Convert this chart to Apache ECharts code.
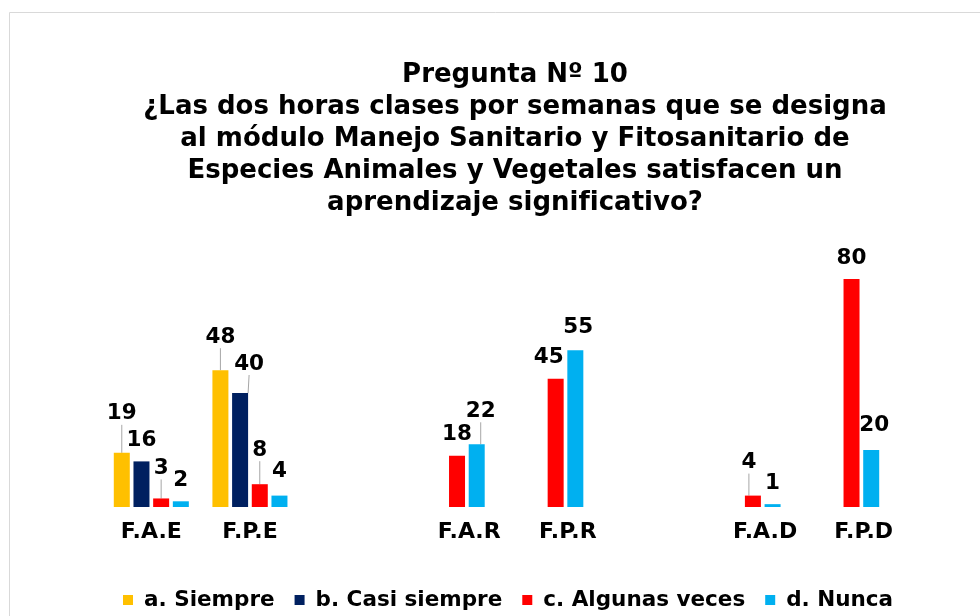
<!DOCTYPE html>
<html lang="es">
<head>
  <meta charset="utf-8">
</head>
<body style="margin: 0; background: #fff">
  <div id="container" style="width: 980px; height: 616px"></div>

  <script type="text/javascript" src="https://fastly.jsdelivr.net/npm/echarts@6.0.0/dist/echarts.min.js"></script>
  <script type="text/javascript">
    // datos del gráfico
    var categories = ['F.A.E', 'F.P.E', '', 'F.A.R', 'F.P.R', '', 'F.A.D', 'F.P.D'];
    var siempre = [19, 48, null, null, null, null, null, null];
    var casiSiempre = [16, 40, null, null, null, null, null, null];
    var algunasVeces = [3, 8, null, 18, 45, null, 4, 80];
    var nunca = [2, 4, null, 22, 55, null, 1, 20];
    var seriesNames = ['a. Siempre', 'b. Casi siempre', 'c. Algunas veces', 'd. Nunca'];
    var titleText = 'Pregunta Nº 10\n' +
      '¿Las dos horas clases por semanas que se designa\n' +
      'al módulo Manejo Sanitario y Fitosanitario de\n' +
      'Especies Animales y Vegetales satisfacen un\n' +
      'aprendizaje significativo?';

    var colors = ['#FFC000', '#002060', '#FF0000', '#00B0F0'];
    var FONT = '"DejaVu Sans", sans-serif';

    // etiquetas desplazadas: "serie-categoria": [dx, dy, linea guia]
    var callouts = {
      '0-0': [0, -18, true],
      '2-0': [0, -9, true],
      '0-1': [0, -12, true],
      '1-1': [9, -8, true],
      '2-1': [0, -13, true],
      '3-1': [0, -3, false],
      '3-3': [4, -12, true],
      '2-4': [-7, 0, false],
      '3-4': [3, -2, false],
      '2-6': [-4, -12, true],
      '3-7': [3, -4, false]
    };

    var values = [siempre, casiSiempre, algunasVeces, nunca];

    var dom = document.getElementById('container');
    var myChart = echarts.init(dom, null, { renderer: 'canvas' });

    var series = values.map(function (vals, si) {
      return {
        name: seriesNames[si],
        type: 'bar',
        barWidth: 16,
        barGap: '23%',
        itemStyle: { color: colors[si] },
        label: {
          show: true,
          position: 'top',
          distance: 10,
          color: '#000',
          fontFamily: FONT,
          fontWeight: 'bold',
          fontSize: 21.5
        },
        labelLine: {
          show: false,
          lineStyle: { color: '#a6a6a6', width: 1 }
        },
        labelLayout: function (params) {
          var c = callouts[params.seriesIndex + '-' + params.dataIndex];
          return c ? { dx: c[0], dy: c[1] } : {};
        },
        data: vals.map(function (v, ci) {
          var c = callouts[si + '-' + ci];
          if (c && c[2]) {
            return { value: v, labelLine: { show: true } };
          }
          return v;
        })
      };
    });

    var option = {
      backgroundColor: '#fff',
      animation: false,
      graphic: [
        {
          type: 'rect',
          shape: { x: 9.5, y: 12.5, width: 1200, height: 800 },
          style: { fill: null, stroke: '#d9d9d9', lineWidth: 1 },
          silent: true
        },
        {
          type: 'text',
          x: 515,
          y: 59,
          style: {
            text: titleText,
            textAlign: 'center',
            textVerticalAlign: 'top',
            fontFamily: FONT,
            fontWeight: 'bold',
            fontSize: 26,
            lineHeight: 32,
            fill: '#000'
          }
        }
      ],
      legend: {
        data: seriesNames,
        left: 118,
        top: 584,
        itemWidth: 10,
        itemHeight: 10,
        itemGap: 20,
        icon: 'rect',
        textStyle: {
          color: '#000',
          fontFamily: FONT,
          fontWeight: 'bold',
          fontSize: 21.5,
          padding: [0, 0, 0, 6]
        }
      },
      grid: {
        left: 102,
        right: 89,
        top: 279,
        bottom: 109
      },
      xAxis: {
        type: 'category',
        data: categories.map(function (c, i) {
          // los grupos de dos barras tienen el rótulo centrado bajo esas barras
          if (c && siempre[i] === null) {
            return { value: c, textStyle: { padding: [0, 0, 0, 44] } };
          }
          return c;
        }),
        axisLine: { show: false },
        axisTick: { show: false },
        axisLabel: {
          interval: 0,
          margin: 14,
          color: '#000',
          fontFamily: FONT,
          fontWeight: 'bold',
          fontSize: 22,
          lineHeight: 22
        }
      },
      yAxis: {
        type: 'value',
        min: 0,
        max: 80,
        show: false,
        splitLine: { show: false }
      },
      series: series
    };

    myChart.setOption(option);
    window.addEventListener('resize', myChart.resize);
  </script>
</body>
</html>
